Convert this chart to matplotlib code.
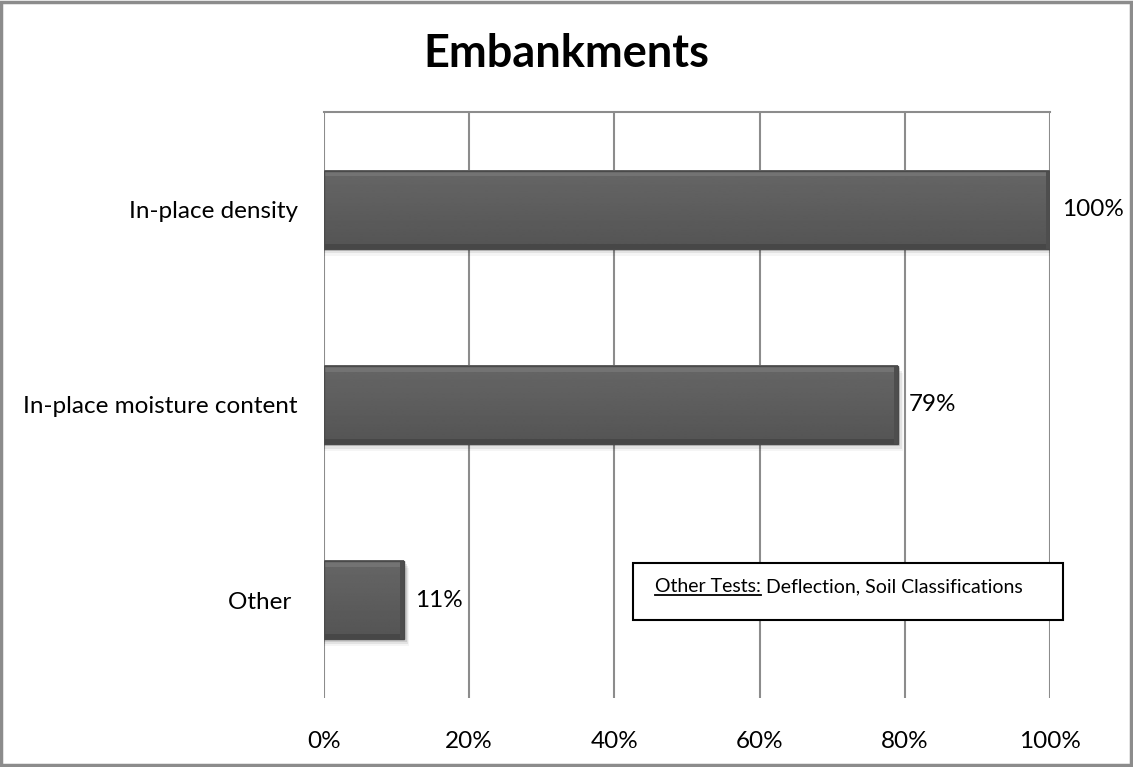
import matplotlib.pyplot as plt
from matplotlib.patches import Rectangle
import numpy as np

plt.rcParams['font.family'] = ['Lato', 'DejaVu Sans']

categories = ['In-place density', 'In-place moisture content', 'Other ']
values = [100, 79, 11]
value_labels = ['100%', '79%', '11%']
xticks = [0, 20, 40, 60, 80, 100]
xtick_labels = ['0%', '20%', '40%', '60%', '80%', '100%']
note_head = 'Other Tests:'
note_body = ' Deflection, Soil Classifications'

fig = plt.figure(figsize=(11.33, 7.67), dpi=100)
ax = fig.add_axes([0.286, 0.09, 0.6407, 0.764])

ypos = np.arange(len(categories))[::-1]
h = 0.4

# vertical shading for the bar faces
shade = np.linspace(0.33, 0.40, 64).reshape(-1, 1)

for y, v, lab in zip(ypos, values, value_labels):
    # soft shadow
    for k, a in enumerate([0.10, 0.07, 0.04]):
        ax.add_patch(Rectangle((0, y - h / 2 - 0.012 - k * 0.012), v + 0.4 + k * 0.15, h,
                               facecolor='black', alpha=a, edgecolor='none', zorder=2))
    ax.imshow(shade, cmap='gray', vmin=0, vmax=1, aspect='auto', origin='lower',
              extent=(0, v, y - h / 2, y + h / 2), zorder=3, interpolation='bilinear')
    ax.add_patch(Rectangle((0, y + h / 2 - 0.03), v, 0.03, facecolor='#737373',
                           edgecolor='none', zorder=4))
    ax.add_patch(Rectangle((0, y - h / 2), v, 0.025, facecolor='#474747',
                           edgecolor='none', zorder=4))
    ax.add_patch(Rectangle((v - 0.5, y - h / 2), 0.5, h, facecolor='#4e4e4e',
                           edgecolor='none', zorder=4))
    ax.add_patch(Rectangle((0, y - h / 2), v, h, facecolor='none',
                           edgecolor='#4a4a4a', linewidth=1, zorder=5))
    ax.text(v + 1.6, y, lab, va='center', ha='left', fontsize=17.5, color='black')

ax.set_xlim(0, 100)
ax.set_ylim(-0.5, 2.5)
ax.set_xticks(xticks)
ax.set_xticklabels(xtick_labels, fontsize=17.5)
ax.set_yticks(ypos)
ax.set_yticklabels(categories, fontsize=17.5)
ax.tick_params(axis='both', length=0)
ax.tick_params(axis='x', pad=24)
ax.tick_params(axis='y', pad=19)
ax.xaxis.grid(True, color='#8c8c8c', linewidth=1.5, zorder=1)
ax.set_axisbelow(True)
for s in ['left', 'right', 'bottom']:
    ax.spines[s].set_visible(False)
ax.spines['top'].set_color('#8c8c8c')
ax.spines['top'].set_linewidth(1.5)

fig.text(0.5, 0.93, 'Embankments', ha='center', va='center', fontsize=32.5,
         fontweight='bold')

# note box
bx0, by0, bx1, by1 = 633 / 1133, 1 - 620 / 767, 1063 / 1133, 1 - 563 / 767
fig.add_artist(Rectangle((bx0, by0), bx1 - bx0, by1 - by0, transform=fig.transFigure,
                         facecolor='white', edgecolor='black', linewidth=1.5, zorder=5))
tx, ty = 655 / 1133, 1 - 587 / 767
t1 = fig.text(tx, ty, note_head, ha='left', va='center', fontsize=14, zorder=6)
fig.canvas.draw()
bb = t1.get_window_extent().transformed(fig.transFigure.inverted())
fig.text(bb.x1, ty, note_body, ha='left', va='center', fontsize=14, zorder=6)
fig.add_artist(plt.Line2D([bb.x0, bb.x1], [bb.y0 + 0.001, bb.y0 + 0.001],
                          transform=fig.transFigure, color='black', linewidth=1.3, zorder=6))

# outer frame
fig.add_artist(Rectangle((0.001, 0.002), 0.997, 0.996, transform=fig.transFigure,
                         facecolor='none', edgecolor='#8c8c8c', linewidth=2.5))

fig.savefig('out.png', dpi=100)
